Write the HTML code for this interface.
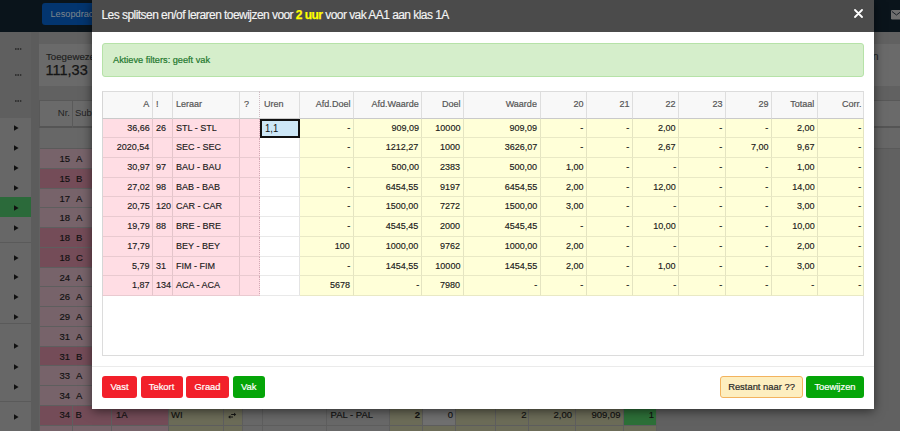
<!DOCTYPE html>
<html><head><meta charset="utf-8">
<style>
*{box-sizing:border-box;margin:0;padding:0}
html,body{width:900px;height:431px;overflow:hidden;background:#616161;font-family:"Liberation Sans",sans-serif}
.a{position:absolute}
.t{position:absolute;white-space:nowrap}
#bg{position:absolute;left:0;top:0;width:900px;height:431px;overflow:hidden}
.tri{position:absolute;left:14px;width:5px;height:6px}
.dots{position:absolute;left:15px;width:7px;height:2px;background:radial-gradient(circle at 1px 1px,#333 0.9px,transparent 1px) 0 0/2.4px 2px repeat-x}
#modal{position:absolute;left:92px;top:0;width:782px;height:408.6px;background:#fff;box-shadow:0 2px 10px rgba(0,0,0,.55)}
#mh{position:absolute;left:0;top:0;width:782px;height:32.4px;background:#4b4b4b}
#tbl{position:absolute;left:10px;top:91px;width:762.4px;height:265px;border:1px solid #dcdcdc;background:#fff}
.c{position:absolute;height:19.72px;border-right:1px solid rgba(0,0,0,.1);border-bottom:1px solid rgba(0,0,0,.085);font-size:9.5px;color:#1a1a1a;white-space:nowrap;line-height:17.6px;padding:0 2.2px 0 3.5px;-webkit-text-stroke:0.15px #1a1a1a}
.r{text-align:right}
.c i,.inp i{font-style:normal;display:inline-block;transform:scaleX(.95);transform-origin:0 50%}
.r i{transform-origin:100% 50%}
.h{top:91px;background:#f8f8f8;color:#555;-webkit-text-stroke:0.2px #555;height:27.6px;line-height:24px;border-top:1px solid #dcdcdc;border-bottom:1px solid #cacaca}
.p{background:#ffdde4}
.y{background:#ffffd8}
.w{background:#fff}
.bgr{position:absolute;left:40px;width:617px;height:19.8px;border-bottom:1px solid #5e5e5e}
.bgt{font-size:9.5px;line-height:19.8px;color:#111;-webkit-text-stroke:0.15px #111}
.bc{position:absolute;height:19.8px;border-right:1px solid #5e5e5e;border-bottom:1px solid #5e5e5e}
.inp{position:absolute;height:19.72px;border:2px solid #111;background:#cde7f7;font-size:10px;line-height:15.5px;padding-left:3px;color:#111}
.btn{position:absolute;top:376.3px;height:22px;border-radius:3px;color:#fff;font-size:9.4px;line-height:22px;text-align:center;-webkit-text-stroke:0.2px #fff}
</style></head><body>
<div id="bg">
  <div class="a" style="left:0;top:0;width:900px;height:32px;background:#0a141b"></div>
  <div class="a" style="left:42px;top:3px;width:80px;height:22px;background:#03356f;border-radius:3px"></div>
  <div class="t" style="left:50.5px;top:3px;line-height:22px;font-size:9.2px;color:#7e858c">Lesopdrachten</div>
  <svg class="a" style="left:891px;top:9.5px" width="12" height="10" viewBox="0 0 12 10"><rect x="0" y="0" width="12" height="9.5" rx="1.2" fill="#6f6f6f"/><path d="M1 1.5L5.5 5L10 1.5" stroke="#1a2028" stroke-width="1" fill="none"/></svg>
  <div class="a" style="left:0;top:32px;width:31px;height:86px;background:#5f5f5f"></div>
  <div class="a" style="left:0;top:118px;width:31px;height:313px;background:#676767"></div>
  <div class="a" style="left:31px;top:32px;width:8px;height:399px;background:#5c5c5c"></div>
  <div class="dots" style="top:47.5px"></div>
  <div class="dots" style="top:74px"></div>
  <div class="dots" style="top:100px"></div>
  <div class="a" style="left:0;top:197px;width:31px;height:20px;background:#2b6a3a"></div>
  <div class="a" style="left:0;top:242px;width:31px;height:1px;background:#5a5a5a"></div>
  <div class="a" style="left:0;top:323px;width:31px;height:1px;background:#5a5a5a"></div>
  <div class="a" style="left:0;top:401px;width:31px;height:1px;background:#5a5a5a"></div>
<svg class="tri" style="top:125px" viewBox="0 0 5 6"><path d="M0 0.3L4.6 3L0 5.7Z" fill="#111"/></svg>
<svg class="tri" style="top:145px" viewBox="0 0 5 6"><path d="M0 0.3L4.6 3L0 5.7Z" fill="#111"/></svg>
<svg class="tri" style="top:165px" viewBox="0 0 5 6"><path d="M0 0.3L4.6 3L0 5.7Z" fill="#111"/></svg>
<svg class="tri" style="top:185px" viewBox="0 0 5 6"><path d="M0 0.3L4.6 3L0 5.7Z" fill="#111"/></svg>
<svg class="tri" style="top:204.5px" viewBox="0 0 5 6"><path d="M0 0.3L4.6 3L0 5.7Z" fill="#111"/></svg>
<svg class="tri" style="top:224.5px" viewBox="0 0 5 6"><path d="M0 0.3L4.6 3L0 5.7Z" fill="#111"/></svg>
<svg class="tri" style="top:254.5px" viewBox="0 0 5 6"><path d="M0 0.3L4.6 3L0 5.7Z" fill="#111"/></svg>
<svg class="tri" style="top:274px" viewBox="0 0 5 6"><path d="M0 0.3L4.6 3L0 5.7Z" fill="#111"/></svg>
<svg class="tri" style="top:293.5px" viewBox="0 0 5 6"><path d="M0 0.3L4.6 3L0 5.7Z" fill="#111"/></svg>
<svg class="tri" style="top:313.5px" viewBox="0 0 5 6"><path d="M0 0.3L4.6 3L0 5.7Z" fill="#111"/></svg>
<svg class="tri" style="top:343px" viewBox="0 0 5 6"><path d="M0 0.3L4.6 3L0 5.7Z" fill="#111"/></svg>
<svg class="tri" style="top:363.5px" viewBox="0 0 5 6"><path d="M0 0.3L4.6 3L0 5.7Z" fill="#111"/></svg>
<svg class="tri" style="top:383.5px" viewBox="0 0 5 6"><path d="M0 0.3L4.6 3L0 5.7Z" fill="#111"/></svg>
<svg class="tri" style="top:414px" viewBox="0 0 5 6"><path d="M0 0.3L4.6 3L0 5.7Z" fill="#111"/></svg>
  <div class="a" style="left:39px;top:44px;width:861px;height:41.5px;background:#6a6a6a"></div>
  <div class="t" style="left:46px;top:51px;line-height:12px;font-size:9.7px;color:#1e1e1e;-webkit-text-stroke:0.15px #1e1e1e">Toegewezen</div>
  <div class="t" style="left:45.5px;top:62px;line-height:16px;font-size:14.5px;color:#151515;-webkit-text-stroke:0.25px #151515">111,33</div>
  <div class="t" style="left:872.5px;top:49px;line-height:14px;font-size:11px;color:#222">n</div>
  <div class="a" style="left:39px;top:100px;width:870px;height:28px;background:#6a6a6a;border:1px solid #585858;border-bottom:2px solid #555"></div>
  <div class="a" style="left:72px;top:101px;width:1px;height:47px;background:#5a5a5a"></div>
  <div class="t" style="left:40px;top:101px;width:30px;text-align:right;line-height:24px;font-size:9.5px;color:#222">Nr.</div>
  <div class="t" style="left:75px;top:101px;line-height:24px;font-size:9.5px;color:#222">Sub</div>
  <div class="a" style="left:40px;top:128px;width:860px;height:20.6px;background:#676767;border-bottom:1px solid #5a5a5a"></div>
<div class="bgr" style="top:149px;background:#77636a"></div>
<div class="t bgt" style="left:40px;width:30px;text-align:right;top:149px">15</div>
<div class="t bgt" style="left:76px;top:149px">A</div>
<div class="bgr" style="top:168.75px;background:#744c58"></div>
<div class="t bgt" style="left:40px;width:30px;text-align:right;top:168.75px">15</div>
<div class="t bgt" style="left:76px;top:168.75px">B</div>
<div class="bgr" style="top:188.5px;background:#77636a"></div>
<div class="t bgt" style="left:40px;width:30px;text-align:right;top:188.5px">17</div>
<div class="t bgt" style="left:76px;top:188.5px">A</div>
<div class="bgr" style="top:208.25px;background:#77636a"></div>
<div class="t bgt" style="left:40px;width:30px;text-align:right;top:208.25px">18</div>
<div class="t bgt" style="left:76px;top:208.25px">A</div>
<div class="bgr" style="top:228px;background:#744c58"></div>
<div class="t bgt" style="left:40px;width:30px;text-align:right;top:228px">18</div>
<div class="t bgt" style="left:76px;top:228px">B</div>
<div class="bgr" style="top:247.75px;background:#744c58"></div>
<div class="t bgt" style="left:40px;width:30px;text-align:right;top:247.75px">18</div>
<div class="t bgt" style="left:76px;top:247.75px">C</div>
<div class="bgr" style="top:267.5px;background:#77636a"></div>
<div class="t bgt" style="left:40px;width:30px;text-align:right;top:267.5px">24</div>
<div class="t bgt" style="left:76px;top:267.5px">A</div>
<div class="bgr" style="top:287.25px;background:#77636a"></div>
<div class="t bgt" style="left:40px;width:30px;text-align:right;top:287.25px">26</div>
<div class="t bgt" style="left:76px;top:287.25px">A</div>
<div class="bgr" style="top:307px;background:#77636a"></div>
<div class="t bgt" style="left:40px;width:30px;text-align:right;top:307px">29</div>
<div class="t bgt" style="left:76px;top:307px">A</div>
<div class="bgr" style="top:326.75px;background:#77636a"></div>
<div class="t bgt" style="left:40px;width:30px;text-align:right;top:326.75px">31</div>
<div class="t bgt" style="left:76px;top:326.75px">A</div>
<div class="bgr" style="top:346.5px;background:#744c58"></div>
<div class="t bgt" style="left:40px;width:30px;text-align:right;top:346.5px">31</div>
<div class="t bgt" style="left:76px;top:346.5px">B</div>
<div class="bgr" style="top:366.25px;background:#77636a"></div>
<div class="t bgt" style="left:40px;width:30px;text-align:right;top:366.25px">33</div>
<div class="t bgt" style="left:76px;top:366.25px">A</div>
<div class="bgr" style="top:386px;background:#77636a"></div>
<div class="t bgt" style="left:40px;width:30px;text-align:right;top:386px">34</div>
<div class="t bgt" style="left:76px;top:386px">A</div>
<div class="bc" style="left:40px;top:405.75px;width:33px;background:#744c58"></div>
<div class="bc" style="left:73px;top:405.75px;width:39px;background:#744c58"></div>
<div class="bc" style="left:112px;top:405.75px;width:56.5px;background:#744c58"></div>
<div class="bc" style="left:168.5px;top:405.75px;width:55.5px;background:#6c6c58"></div>
<div class="bc" style="left:224px;top:405.75px;width:19px;background:#6c6c58"></div>
<div class="bc" style="left:243px;top:405.75px;width:20px;background:#686868"></div>
<div class="bc" style="left:263px;top:405.75px;width:64px;background:#686868"></div>
<div class="bc" style="left:327px;top:405.75px;width:62.5px;background:#686868"></div>
<div class="bc" style="left:389.5px;top:405.75px;width:33.5px;background:#6c6c58"></div>
<div class="bc" style="left:423px;top:405.75px;width:32.5px;background:#707070"></div>
<div class="bc" style="left:455.5px;top:405.75px;width:40.5px;background:#6c6c58"></div>
<div class="bc" style="left:496px;top:405.75px;width:32.5px;background:#6c6c58"></div>
<div class="bc" style="left:528.5px;top:405.75px;width:47.5px;background:#6c6c58"></div>
<div class="bc" style="left:576px;top:405.75px;width:48px;background:#6c6c58"></div>
<div class="bc" style="left:624px;top:405.75px;width:32.5px;background:#2d7038"></div>
<div class="bc" style="left:40px;top:425.5px;width:33px;background:#77636a"></div>
<div class="bc" style="left:73px;top:425.5px;width:39px;background:#77636a"></div>
<div class="bc" style="left:112px;top:425.5px;width:56.5px;background:#77636a"></div>
<div class="bc" style="left:168.5px;top:425.5px;width:55.5px;background:#6c6c58"></div>
<div class="bc" style="left:224px;top:425.5px;width:19px;background:#6c6c58"></div>
<div class="bc" style="left:243px;top:425.5px;width:20px;background:#686868"></div>
<div class="bc" style="left:263px;top:425.5px;width:64px;background:#686868"></div>
<div class="bc" style="left:327px;top:425.5px;width:62.5px;background:#686868"></div>
<div class="bc" style="left:389.5px;top:425.5px;width:33.5px;background:#6c6c58"></div>
<div class="bc" style="left:423px;top:425.5px;width:32.5px;background:#6c6c58"></div>
<div class="bc" style="left:455.5px;top:425.5px;width:40.5px;background:#6c6c58"></div>
<div class="bc" style="left:496px;top:425.5px;width:32.5px;background:#6c6c58"></div>
<div class="bc" style="left:528.5px;top:425.5px;width:47.5px;background:#6c6c58"></div>
<div class="bc" style="left:576px;top:425.5px;width:48px;background:#6c6c58"></div>
<div class="bc" style="left:624px;top:425.5px;width:32.5px;background:#6c6c58"></div>
<div class="t bgt" style="left:40px;width:30px;text-align:right;top:405.25px">34</div>
<div class="t bgt" style="left:75.5px;top:405.25px">B</div>
<div class="t bgt" style="left:116px;top:405.25px">1A</div>
<div class="t bgt" style="left:171px;top:405.25px">WI</div>
<div class="t bgt" style="left:330.5px;top:405.25px">PAL - PAL</div>
<div class="t bgt" style="left:389.5px;width:30.5px;text-align:right;top:405.25px"><b>2</b></div>
<div class="t bgt" style="left:423px;width:30px;text-align:right;top:405.25px">0</div>
<div class="t bgt" style="left:496px;width:30.5px;text-align:right;top:405.25px">2</div>
<div class="t bgt" style="left:528.5px;width:43.5px;text-align:right;top:405.25px">2,00</div>
<div class="t bgt" style="left:576px;width:44.5px;text-align:right;top:405.25px">909,09</div>
<div class="t bgt" style="left:624px;width:30px;text-align:right;top:405.25px">1</div>
<svg class="a" style="left:226px;top:411px" width="12" height="8" viewBox="0 0 12 8"><path d="M5.2 3.5H8.3" stroke="#141414" stroke-width="1"/><path d="M8 1.8L10.2 3.5L8 5.2Z" fill="#141414"/><path d="M4 6H7" stroke="#141414" stroke-width="1"/><path d="M4.3 4.3L2.1 6L4.3 7.7Z" fill="#141414"/></svg>
</div>

<div id="modal">
  <div id="mh"></div>
  <div class="t" style="left:9.5px;top:5px;line-height:20px;font-size:12px;letter-spacing:-0.55px;color:#f4f4f4;-webkit-text-stroke:0.15px #f4f4f4">Les splitsen en/of leraren toewijzen voor <b style="color:#ffff00;-webkit-text-stroke:0.25px #ffff00">2 uur</b> voor vak AA1 aan klas 1A</div>
  <svg class="a" style="left:762px;top:8.5px" width="9" height="9" viewBox="0 0 9 9"><path d="M1 1L8 8M8 1L1 8" stroke="#fff" stroke-width="1.8" stroke-linecap="round"/></svg>
  <div class="a" style="left:10px;top:43px;width:762px;height:34px;background:#d5eecb;border:1px solid #b6e2a8;border-radius:3px"></div>
  <div class="t" style="left:21px;top:44px;line-height:32px;font-size:9.2px;color:#23782e;-webkit-text-stroke:0.2px #23782e">Aktieve filters: geeft vak</div>
  <div id="tbl"></div>
<div class="c h r" style="left:10px;width:50.5px;border-left:1px solid #d6d6d6;"><i>A</i></div>
<div class="c h" style="left:60.5px;width:20px;"><i>!</i></div>
<div class="c h" style="left:80.5px;width:67.5px;"><i>Leraar</i></div>
<div class="c h" style="left:148px;width:20px;border-right:1px dotted rgba(120,60,80,.32);"><i>?</i></div>
<div class="c h" style="left:168px;width:39.5px;"><i>Uren</i></div>
<div class="c h r" style="left:207.5px;width:54px;"><i>Afd.Doel</i></div>
<div class="c h r" style="left:261.5px;width:68.5px;"><i>Afd.Waarde</i></div>
<div class="c h r" style="left:330px;width:41.5px;"><i>Doel</i></div>
<div class="c h r" style="left:371.5px;width:77px;"><i>Waarde</i></div>
<div class="c h r" style="left:448.5px;width:46px;"><i>20</i></div>
<div class="c h r" style="left:494.5px;width:46.3px;"><i>21</i></div>
<div class="c h r" style="left:540.8px;width:46.2px;"><i>22</i></div>
<div class="c h r" style="left:587px;width:46.5px;"><i>23</i></div>
<div class="c h r" style="left:633.5px;width:46.1px;"><i>29</i></div>
<div class="c h r" style="left:679.6px;width:46.2px;"><i>Totaal</i></div>
<div class="c h r" style="left:725.8px;width:46.6px;"><i>Corr.</i></div>
<div class="c p r" style="left:10px;top:118.6px;width:50.5px;border-left:1px solid #d6d6d6;"><i>36,66</i></div>
<div class="c p" style="left:60.5px;top:118.6px;width:20px;"><i>26</i></div>
<div class="c p" style="left:80.5px;top:118.6px;width:67.5px;"><i>STL - STL</i></div>
<div class="c p" style="left:148px;top:118.6px;width:20px;border-right:1px dotted rgba(120,60,80,.32);"></div>
<div class="c w" style="left:168px;top:118.6px;width:39.5px"></div>
<div class="inp" style="left:168px;top:118.6px;width:39.5px"><i>1,1</i></div>
<div class="c y r" style="left:207.5px;top:118.6px;width:54px;"><i>-</i></div>
<div class="c y r" style="left:261.5px;top:118.6px;width:68.5px;"><i>909,09</i></div>
<div class="c y r" style="left:330px;top:118.6px;width:41.5px;"><i>10000</i></div>
<div class="c y r" style="left:371.5px;top:118.6px;width:77px;"><i>909,09</i></div>
<div class="c y r" style="left:448.5px;top:118.6px;width:46px;"><i>-</i></div>
<div class="c y r" style="left:494.5px;top:118.6px;width:46.3px;"><i>-</i></div>
<div class="c y r" style="left:540.8px;top:118.6px;width:46.2px;"><i>2,00</i></div>
<div class="c y r" style="left:587px;top:118.6px;width:46.5px;"><i>-</i></div>
<div class="c y r" style="left:633.5px;top:118.6px;width:46.1px;"><i>-</i></div>
<div class="c y r" style="left:679.6px;top:118.6px;width:46.2px;"><i>2,00</i></div>
<div class="c y r" style="left:725.8px;top:118.6px;width:46.6px;"><i>-</i></div>
<div class="c p r" style="left:10px;top:138.32px;width:50.5px;border-left:1px solid #d6d6d6;"><i>2020,54</i></div>
<div class="c p" style="left:60.5px;top:138.32px;width:20px;"></div>
<div class="c p" style="left:80.5px;top:138.32px;width:67.5px;"><i>SEC - SEC</i></div>
<div class="c p" style="left:148px;top:138.32px;width:20px;border-right:1px dotted rgba(120,60,80,.32);"></div>
<div class="c w" style="left:168px;top:138.32px;width:39.5px;"></div>
<div class="c y r" style="left:207.5px;top:138.32px;width:54px;"><i>-</i></div>
<div class="c y r" style="left:261.5px;top:138.32px;width:68.5px;"><i>1212,27</i></div>
<div class="c y r" style="left:330px;top:138.32px;width:41.5px;"><i>1000</i></div>
<div class="c y r" style="left:371.5px;top:138.32px;width:77px;"><i>3626,07</i></div>
<div class="c y r" style="left:448.5px;top:138.32px;width:46px;"><i>-</i></div>
<div class="c y r" style="left:494.5px;top:138.32px;width:46.3px;"><i>-</i></div>
<div class="c y r" style="left:540.8px;top:138.32px;width:46.2px;"><i>2,67</i></div>
<div class="c y r" style="left:587px;top:138.32px;width:46.5px;"><i>-</i></div>
<div class="c y r" style="left:633.5px;top:138.32px;width:46.1px;"><i>7,00</i></div>
<div class="c y r" style="left:679.6px;top:138.32px;width:46.2px;"><i>9,67</i></div>
<div class="c y r" style="left:725.8px;top:138.32px;width:46.6px;"><i>-</i></div>
<div class="c p r" style="left:10px;top:158.04px;width:50.5px;border-left:1px solid #d6d6d6;"><i>30,97</i></div>
<div class="c p" style="left:60.5px;top:158.04px;width:20px;"><i>97</i></div>
<div class="c p" style="left:80.5px;top:158.04px;width:67.5px;"><i>BAU - BAU</i></div>
<div class="c p" style="left:148px;top:158.04px;width:20px;border-right:1px dotted rgba(120,60,80,.32);"></div>
<div class="c w" style="left:168px;top:158.04px;width:39.5px;"></div>
<div class="c y r" style="left:207.5px;top:158.04px;width:54px;"><i>-</i></div>
<div class="c y r" style="left:261.5px;top:158.04px;width:68.5px;"><i>500,00</i></div>
<div class="c y r" style="left:330px;top:158.04px;width:41.5px;"><i>2383</i></div>
<div class="c y r" style="left:371.5px;top:158.04px;width:77px;"><i>500,00</i></div>
<div class="c y r" style="left:448.5px;top:158.04px;width:46px;"><i>1,00</i></div>
<div class="c y r" style="left:494.5px;top:158.04px;width:46.3px;"><i>-</i></div>
<div class="c y r" style="left:540.8px;top:158.04px;width:46.2px;"><i>-</i></div>
<div class="c y r" style="left:587px;top:158.04px;width:46.5px;"><i>-</i></div>
<div class="c y r" style="left:633.5px;top:158.04px;width:46.1px;"><i>-</i></div>
<div class="c y r" style="left:679.6px;top:158.04px;width:46.2px;"><i>1,00</i></div>
<div class="c y r" style="left:725.8px;top:158.04px;width:46.6px;"><i>-</i></div>
<div class="c p r" style="left:10px;top:177.76px;width:50.5px;border-left:1px solid #d6d6d6;"><i>27,02</i></div>
<div class="c p" style="left:60.5px;top:177.76px;width:20px;"><i>98</i></div>
<div class="c p" style="left:80.5px;top:177.76px;width:67.5px;"><i>BAB - BAB</i></div>
<div class="c p" style="left:148px;top:177.76px;width:20px;border-right:1px dotted rgba(120,60,80,.32);"></div>
<div class="c w" style="left:168px;top:177.76px;width:39.5px;"></div>
<div class="c y r" style="left:207.5px;top:177.76px;width:54px;"><i>-</i></div>
<div class="c y r" style="left:261.5px;top:177.76px;width:68.5px;"><i>6454,55</i></div>
<div class="c y r" style="left:330px;top:177.76px;width:41.5px;"><i>9197</i></div>
<div class="c y r" style="left:371.5px;top:177.76px;width:77px;"><i>6454,55</i></div>
<div class="c y r" style="left:448.5px;top:177.76px;width:46px;"><i>2,00</i></div>
<div class="c y r" style="left:494.5px;top:177.76px;width:46.3px;"><i>-</i></div>
<div class="c y r" style="left:540.8px;top:177.76px;width:46.2px;"><i>12,00</i></div>
<div class="c y r" style="left:587px;top:177.76px;width:46.5px;"><i>-</i></div>
<div class="c y r" style="left:633.5px;top:177.76px;width:46.1px;"><i>-</i></div>
<div class="c y r" style="left:679.6px;top:177.76px;width:46.2px;"><i>14,00</i></div>
<div class="c y r" style="left:725.8px;top:177.76px;width:46.6px;"><i>-</i></div>
<div class="c p r" style="left:10px;top:197.48px;width:50.5px;border-left:1px solid #d6d6d6;"><i>20,75</i></div>
<div class="c p" style="left:60.5px;top:197.48px;width:20px;"><i>120</i></div>
<div class="c p" style="left:80.5px;top:197.48px;width:67.5px;"><i>CAR - CAR</i></div>
<div class="c p" style="left:148px;top:197.48px;width:20px;border-right:1px dotted rgba(120,60,80,.32);"></div>
<div class="c w" style="left:168px;top:197.48px;width:39.5px;"></div>
<div class="c y r" style="left:207.5px;top:197.48px;width:54px;"><i>-</i></div>
<div class="c y r" style="left:261.5px;top:197.48px;width:68.5px;"><i>1500,00</i></div>
<div class="c y r" style="left:330px;top:197.48px;width:41.5px;"><i>7272</i></div>
<div class="c y r" style="left:371.5px;top:197.48px;width:77px;"><i>1500,00</i></div>
<div class="c y r" style="left:448.5px;top:197.48px;width:46px;"><i>3,00</i></div>
<div class="c y r" style="left:494.5px;top:197.48px;width:46.3px;"><i>-</i></div>
<div class="c y r" style="left:540.8px;top:197.48px;width:46.2px;"><i>-</i></div>
<div class="c y r" style="left:587px;top:197.48px;width:46.5px;"><i>-</i></div>
<div class="c y r" style="left:633.5px;top:197.48px;width:46.1px;"><i>-</i></div>
<div class="c y r" style="left:679.6px;top:197.48px;width:46.2px;"><i>3,00</i></div>
<div class="c y r" style="left:725.8px;top:197.48px;width:46.6px;"><i>-</i></div>
<div class="c p r" style="left:10px;top:217.2px;width:50.5px;border-left:1px solid #d6d6d6;"><i>19,79</i></div>
<div class="c p" style="left:60.5px;top:217.2px;width:20px;"><i>88</i></div>
<div class="c p" style="left:80.5px;top:217.2px;width:67.5px;"><i>BRE - BRE</i></div>
<div class="c p" style="left:148px;top:217.2px;width:20px;border-right:1px dotted rgba(120,60,80,.32);"></div>
<div class="c w" style="left:168px;top:217.2px;width:39.5px;"></div>
<div class="c y r" style="left:207.5px;top:217.2px;width:54px;"><i>-</i></div>
<div class="c y r" style="left:261.5px;top:217.2px;width:68.5px;"><i>4545,45</i></div>
<div class="c y r" style="left:330px;top:217.2px;width:41.5px;"><i>2000</i></div>
<div class="c y r" style="left:371.5px;top:217.2px;width:77px;"><i>4545,45</i></div>
<div class="c y r" style="left:448.5px;top:217.2px;width:46px;"><i>-</i></div>
<div class="c y r" style="left:494.5px;top:217.2px;width:46.3px;"><i>-</i></div>
<div class="c y r" style="left:540.8px;top:217.2px;width:46.2px;"><i>10,00</i></div>
<div class="c y r" style="left:587px;top:217.2px;width:46.5px;"><i>-</i></div>
<div class="c y r" style="left:633.5px;top:217.2px;width:46.1px;"><i>-</i></div>
<div class="c y r" style="left:679.6px;top:217.2px;width:46.2px;"><i>10,00</i></div>
<div class="c y r" style="left:725.8px;top:217.2px;width:46.6px;"><i>-</i></div>
<div class="c p r" style="left:10px;top:236.92px;width:50.5px;border-left:1px solid #d6d6d6;"><i>17,79</i></div>
<div class="c p" style="left:60.5px;top:236.92px;width:20px;"></div>
<div class="c p" style="left:80.5px;top:236.92px;width:67.5px;"><i>BEY - BEY</i></div>
<div class="c p" style="left:148px;top:236.92px;width:20px;border-right:1px dotted rgba(120,60,80,.32);"></div>
<div class="c w" style="left:168px;top:236.92px;width:39.5px;"></div>
<div class="c y r" style="left:207.5px;top:236.92px;width:54px;"><i>100</i></div>
<div class="c y r" style="left:261.5px;top:236.92px;width:68.5px;"><i>1000,00</i></div>
<div class="c y r" style="left:330px;top:236.92px;width:41.5px;"><i>9762</i></div>
<div class="c y r" style="left:371.5px;top:236.92px;width:77px;"><i>1000,00</i></div>
<div class="c y r" style="left:448.5px;top:236.92px;width:46px;"><i>2,00</i></div>
<div class="c y r" style="left:494.5px;top:236.92px;width:46.3px;"><i>-</i></div>
<div class="c y r" style="left:540.8px;top:236.92px;width:46.2px;"><i>-</i></div>
<div class="c y r" style="left:587px;top:236.92px;width:46.5px;"><i>-</i></div>
<div class="c y r" style="left:633.5px;top:236.92px;width:46.1px;"><i>-</i></div>
<div class="c y r" style="left:679.6px;top:236.92px;width:46.2px;"><i>2,00</i></div>
<div class="c y r" style="left:725.8px;top:236.92px;width:46.6px;"><i>-</i></div>
<div class="c p r" style="left:10px;top:256.64px;width:50.5px;border-left:1px solid #d6d6d6;"><i>5,79</i></div>
<div class="c p" style="left:60.5px;top:256.64px;width:20px;"><i>31</i></div>
<div class="c p" style="left:80.5px;top:256.64px;width:67.5px;"><i>FIM - FIM</i></div>
<div class="c p" style="left:148px;top:256.64px;width:20px;border-right:1px dotted rgba(120,60,80,.32);"></div>
<div class="c w" style="left:168px;top:256.64px;width:39.5px;"></div>
<div class="c y r" style="left:207.5px;top:256.64px;width:54px;"><i>-</i></div>
<div class="c y r" style="left:261.5px;top:256.64px;width:68.5px;"><i>1454,55</i></div>
<div class="c y r" style="left:330px;top:256.64px;width:41.5px;"><i>10000</i></div>
<div class="c y r" style="left:371.5px;top:256.64px;width:77px;"><i>1454,55</i></div>
<div class="c y r" style="left:448.5px;top:256.64px;width:46px;"><i>2,00</i></div>
<div class="c y r" style="left:494.5px;top:256.64px;width:46.3px;"><i>-</i></div>
<div class="c y r" style="left:540.8px;top:256.64px;width:46.2px;"><i>1,00</i></div>
<div class="c y r" style="left:587px;top:256.64px;width:46.5px;"><i>-</i></div>
<div class="c y r" style="left:633.5px;top:256.64px;width:46.1px;"><i>-</i></div>
<div class="c y r" style="left:679.6px;top:256.64px;width:46.2px;"><i>3,00</i></div>
<div class="c y r" style="left:725.8px;top:256.64px;width:46.6px;"><i>-</i></div>
<div class="c p r" style="left:10px;top:276.36px;width:50.5px;border-left:1px solid #d6d6d6;"><i>1,87</i></div>
<div class="c p" style="left:60.5px;top:276.36px;width:20px;"><i>134</i></div>
<div class="c p" style="left:80.5px;top:276.36px;width:67.5px;"><i>ACA - ACA</i></div>
<div class="c p" style="left:148px;top:276.36px;width:20px;border-right:1px dotted rgba(120,60,80,.32);"></div>
<div class="c w" style="left:168px;top:276.36px;width:39.5px;"></div>
<div class="c y r" style="left:207.5px;top:276.36px;width:54px;"><i>5678</i></div>
<div class="c y r" style="left:261.5px;top:276.36px;width:68.5px;"><i>-</i></div>
<div class="c y r" style="left:330px;top:276.36px;width:41.5px;"><i>7980</i></div>
<div class="c y r" style="left:371.5px;top:276.36px;width:77px;"><i>-</i></div>
<div class="c y r" style="left:448.5px;top:276.36px;width:46px;"><i>-</i></div>
<div class="c y r" style="left:494.5px;top:276.36px;width:46.3px;"><i>-</i></div>
<div class="c y r" style="left:540.8px;top:276.36px;width:46.2px;"><i>-</i></div>
<div class="c y r" style="left:587px;top:276.36px;width:46.5px;"><i>-</i></div>
<div class="c y r" style="left:633.5px;top:276.36px;width:46.1px;"><i>-</i></div>
<div class="c y r" style="left:679.6px;top:276.36px;width:46.2px;"><i>-</i></div>
<div class="c y r" style="left:725.8px;top:276.36px;width:46.6px;"><i>-</i></div>
  <div class="a" style="left:0;top:365.5px;width:782px;height:1.5px;background:#ebebeb"></div>
  <div class="btn" style="left:10px;width:35px;background:#f2202a">Vast</div>
  <div class="btn" style="left:48.5px;width:42px;background:#f2202a">Tekort</div>
  <div class="btn" style="left:94px;width:43px;background:#f2202a">Graad</div>
  <div class="btn" style="left:140.5px;width:32.5px;background:#05a508">Vak</div>
  <div class="btn" style="left:628px;width:83px;background:#fdeebf;border:1px solid #f3b35e;color:#2a2a2a;line-height:20px;-webkit-text-stroke:0.2px #2a2a2a">Restant naar ??</div>
  <div class="btn" style="left:714px;width:58px;background:#05a508">Toewijzen</div>
</div>
</body></html>
